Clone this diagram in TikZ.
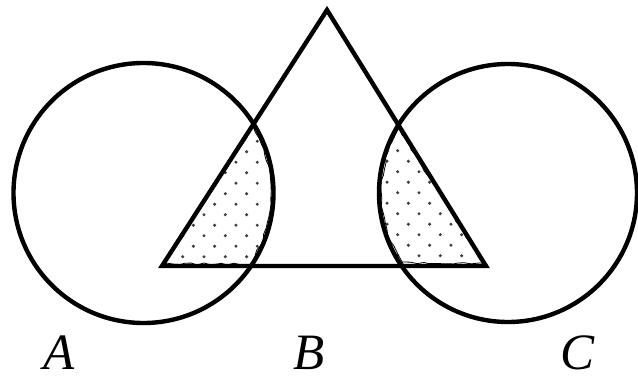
\documentclass[tikz,border=0pt]{standalone}
\usepackage{fontspec}
\setmainfont{Liberation Serif}
\usetikzlibrary{decorations.pathmorphing}
\tikzset{
  thick line/.style={line width=4.4pt, line join=miter},
  wobble/.style={line width=0.8pt, decorate, decoration={random steps, segment length=6pt, amplitude=1pt}},
  dotmark/.style={fill=black!75},
  lab/.style={font=\fontsize{51}{51}\selectfont\itshape, inner sep=0pt, text depth=0pt, anchor=base}
}
\begin{document}
\begin{tikzpicture}[x=1pt,y=-1pt]
\useasboundingbox (0,0) rectangle (638,378);
% left shaded region
\begin{scope}
  \clip (162,266) -- (327,10) -- (486,266) -- cycle;
  \clip (143.5,193) circle (130);
  \foreach \j in {0,...,12}{
    \pgfmathsetmacro{\yy}{151.7+10.5*(\j-1)}
    \pgfmathsetmacro{\off}{mod(\j,2)==1 ? 0 : 10.65}
    \foreach \m in {0,...,5}{
      \fill[dotmark] ({140.1+\off+21.3*\m},\yy) circle (1.7);
    }
  }
  \pgfmathsetseed{7}
  \draw[wobble] (164,264) -- (327,12) -- (486,264) -- cycle;
  \draw[wobble] (143.5,193) circle (127.5);
\end{scope}
% right shaded region
\begin{scope}
  \clip (162,266) -- (327,10) -- (486,266) -- cycle;
  \clip (508,193) circle (129);
  \foreach \j in {0,...,12}{
    \pgfmathsetmacro{\yy}{150.7+10.5*(\j-1)}
    \pgfmathsetmacro{\off}{mod(\j,2)==1 ? 0 : 10.65}
    \foreach \m in {0,...,5}{
      \fill[dotmark] ({376.4+\off+21.3*\m},\yy) circle (1.7);
    }
  }
  \pgfmathsetseed{11}
  \draw[wobble] (164,263) -- (326,13) -- (483,263) -- cycle;
  \draw[wobble] (508,193) circle (126.5);
\end{scope}
% main outlines
\draw[thick line] (162,266) -- (327,10) -- (486,266) -- cycle;
\draw[thick line] (143.5,193) circle (130);
\draw[thick line] (508,193) circle (129);
% labels
\node[lab] (labA) at (59,369) {A};
\node[lab] (labB) at (309,369) {B};
\node[lab] (labC) at (577.5,369) {C};
\end{tikzpicture}
\end{document}
